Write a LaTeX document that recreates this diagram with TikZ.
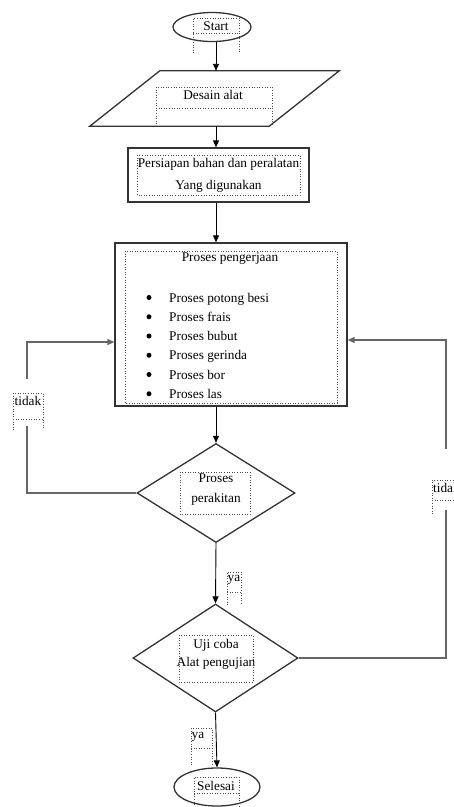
\documentclass[tikz,border=0pt]{standalone}
\usepackage{fontspec}
\setmainfont{Liberation Serif}
\usetikzlibrary{shapes.geometric,arrows.meta,calc}
\newcommand{\dotbox}[5]{% x1 x2 ytop ymid yend
  \draw[tb] (#1,#5) -- (#1,#3) -- (#2,#3) -- (#2,#5);
  \draw[tb] (#1,#4) -- (#2,#4);}
\newcommand{\dotrect}[4]{\draw[tb] (#1,#3) rectangle (#2,#4);}
\begin{document}
\begin{tikzpicture}[x=1pt,y=-1pt,
  font=\fontsize{13.3}{16}\selectfont,
  shp/.style={draw=black!80, line width=1.3pt, inner sep=0pt},
  tip/.style={-{Triangle[length=7pt,width=6pt]}},
  arr/.style={draw=black, line width=0.9pt, tip},
  lp/.style={draw=black!60, line width=1.3pt},
  tb/.style={draw=black!70, dotted, line width=0.6pt},
  lbl/.style={inner sep=0pt, text=black},
  bul/.style={circle, fill=black, inner sep=0pt, minimum size=5pt}]

\useasboundingbox[fill=white] (0,0) rectangle (454,807);

% Start
\node[shp, ellipse, minimum width=78, minimum height=29] (start) at (212,27) {};
\node[lbl] (startT) at (216,26) {Start};
\dotbox{193}{239}{18}{33}{53}

% Desain alat (parallelogram)
\node[minimum width=179, minimum height=55, inner sep=0pt] (desain) at (214.5,98.5) {};
\draw[black!80, line width=1.3pt, line join=miter]
  ([xshift=35pt]desain.north west) -- ([xshift=35pt]desain.north east)
  -- ([xshift=-35pt]desain.south east) -- ([xshift=-35pt]desain.south west) -- cycle;
\node[lbl] (desainT) at (213,95) {Desain alat};
\dotbox{156}{272}{87}{108}{124}

% Persiapan
\node[shp, rectangle, minimum width=181, minimum height=54, align=center,
  font=\fontsize{13.3}{22}\selectfont] (persiapan) at (218.5,175)
  {Persiapan bahan dan peralatan\\Yang digunakan};
\dotrect{137}{300}{155}{195}

% Proses pengerjaan
\node[shp, rectangle, minimum width=232, minimum height=163] (proses) at (231,324.5) {};
\dotrect{125}{337}{251}{403}
\node[lbl] (prosesT) at (230,259) {Proses pengerjaan};
\foreach \t [count=\i] in {Proses potong besi, Proses frais, Proses bubut, Proses gerinda, Proses bor, Proses las}{
  \pgfmathsetmacro{\yb}{302+19.25*(\i-1)}
  \node[bul] (b\i) at (149,\yb-4.5) {};
  \node[lbl, anchor=base west] (it\i) at (169,\yb) {\t};
}

% Proses perakitan
\node[shp, diamond, aspect=1.6, minimum width=158, minimum height=99] (rakit) at (216,493) {};
\node[lbl, align=center, font=\fontsize{13.3}{20}\selectfont] (rakitT) at (216,490) {Proses\\perakitan};
\dotrect{180}{250}{472}{514}

% Uji coba
\node[shp, diamond, aspect=1.6, minimum width=165, minimum height=108] (uji) at (215.5,658) {};
\node[lbl, align=center, font=\fontsize{13.3}{18}\selectfont] (ujiT) at (216,654) {Uji coba\\Alat pengujian};
\dotrect{179}{253}{635}{682}

% Selesai
\node[shp, ellipse, minimum width=86, minimum height=38] (selesai) at (217,787) {};
\node[lbl] (selesaiT) at (216,786) {Selesai};
\dotbox{194}{239}{777}{793}{810}

% main arrows
\coordinate (col) at (216,0);
\draw[arr] (start.south -| col) -- (desain.north -| col);
\draw[arr] (desain.south -| col) -- (persiapan.north -| col);
\draw[arr] (persiapan.south -| col) -- (proses.north -| col);
\draw[arr] (proses.south -| col) -- (rakit.north);
\draw[arr] (rakit.south) -- (uji.north);
\draw[arr] (uji.south) -- (selesai.north);

% ya labels
\node[lbl] (ya1) at (234,580) {ya};
\dotbox{227}{241}{572}{592}{605}
\node[lbl] (ya2) at (198,737) {ya};
\dotbox{191}{212}{728}{748}{765}

% left loop (tidak)
\node[lbl] (tidakL) at (28,401) {tidak};
\dotbox{13}{43}{393}{419}{430}
\coordinate (lgapB) at (27,426);
\coordinate (lgapT) at (27,379);
\draw[lp] (rakit.west) -| (lgapB);
\draw[lp, tip] (lgapT) |- ($(proses.west)+(0,17.5)$);

% right loop (tidak)
\node[lbl, anchor=west] (tidakR) at (433,488) {tidak};
\dotbox{432}{460}{480}{500}{514}
\coordinate (rgapB) at (446,510);
\coordinate (rgapT) at (446,449);
\draw[lp] (uji.east) -| (rgapB);
\draw[lp, tip] (rgapT) |- ($(proses.east)+(0,15.5)$);
\end{tikzpicture}
\end{document}
